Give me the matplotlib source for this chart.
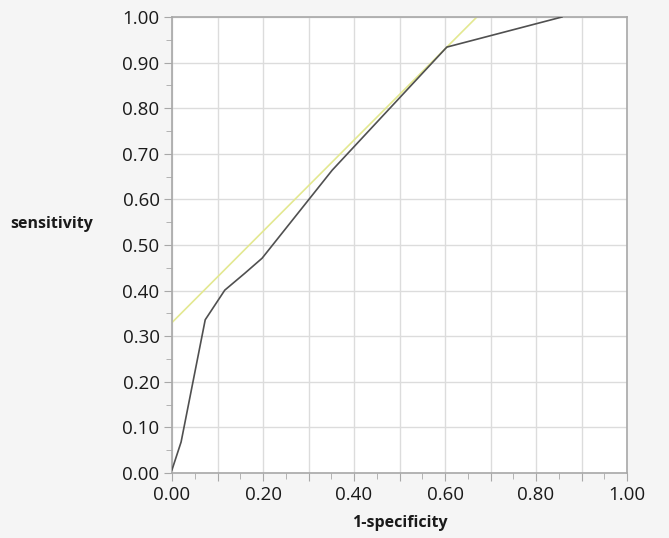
import matplotlib
matplotlib.use("Agg")
import matplotlib.pyplot as plt
from matplotlib.ticker import MultipleLocator, FuncFormatter, FormatStrFormatter
import numpy as np

# ROC curve points (1-specificity, sensitivity)
fpr = [0.0, 0.02, 0.073, 0.116, 0.16, 0.198, 0.352, 0.604, 0.857]
tpr = [0.007, 0.068, 0.336, 0.401, 0.438, 0.471, 0.664, 0.934, 1.0]

# tangent line
line_intercept = 0.33
line_slope = 1.0

bg = "#F5F5F5"
grid_c = "#DCDCDC"
spine_c = "#A8A8A8"
text_c = "#1A1A1A"

plt.rcParams["font.family"] = ["Open Sans", "DejaVu Sans"]

fig = plt.figure(figsize=(6.69, 5.38), dpi=100)
fig.patch.set_facecolor(bg)
ax = fig.add_axes([172 / 669, 1 - 473 / 538, 455 / 669, 456 / 538])
ax.set_facecolor("white")

lx = np.array([0.0, 1.0])
ax.plot(lx, line_intercept + line_slope * lx, color="#E3E890", lw=1.2, zorder=2)
ax.plot(fpr, tpr, color="#505050", lw=1.2, zorder=3)

ax.set_xlim(0, 1)
ax.set_ylim(0, 1)
ax.xaxis.set_major_locator(MultipleLocator(0.1))
ax.xaxis.set_minor_locator(MultipleLocator(0.05))
ax.yaxis.set_major_locator(MultipleLocator(0.1))
ax.yaxis.set_minor_locator(MultipleLocator(0.05))
# x labels only every 0.2
ax.xaxis.set_major_formatter(FuncFormatter(
    lambda v, _: f"{v:.2f}" if round(v * 10) % 2 == 0 else ""))
ax.yaxis.set_major_formatter(FormatStrFormatter("%.2f"))

ax.grid(which="major", color=grid_c, lw=1, zorder=1)
ax.set_axisbelow(True)

for s in ax.spines.values():
    s.set_color(spine_c)
    s.set_linewidth(1.2)

ax.tick_params(which="major", length=6, color=spine_c, labelsize=13.5,
               labelcolor=text_c, pad=3)
ax.tick_params(which="minor", length=4, color=spine_c)

ax.set_xlabel("1-specificity", fontsize=11.5, fontweight="bold", color=text_c, labelpad=8)
fig.text(10 / 669, 1 - 224 / 538, "sensitivity", fontsize=11.5, fontweight="bold",
         color=text_c, ha="left", va="center")

fig.savefig("out.png", dpi=100, facecolor=bg)
